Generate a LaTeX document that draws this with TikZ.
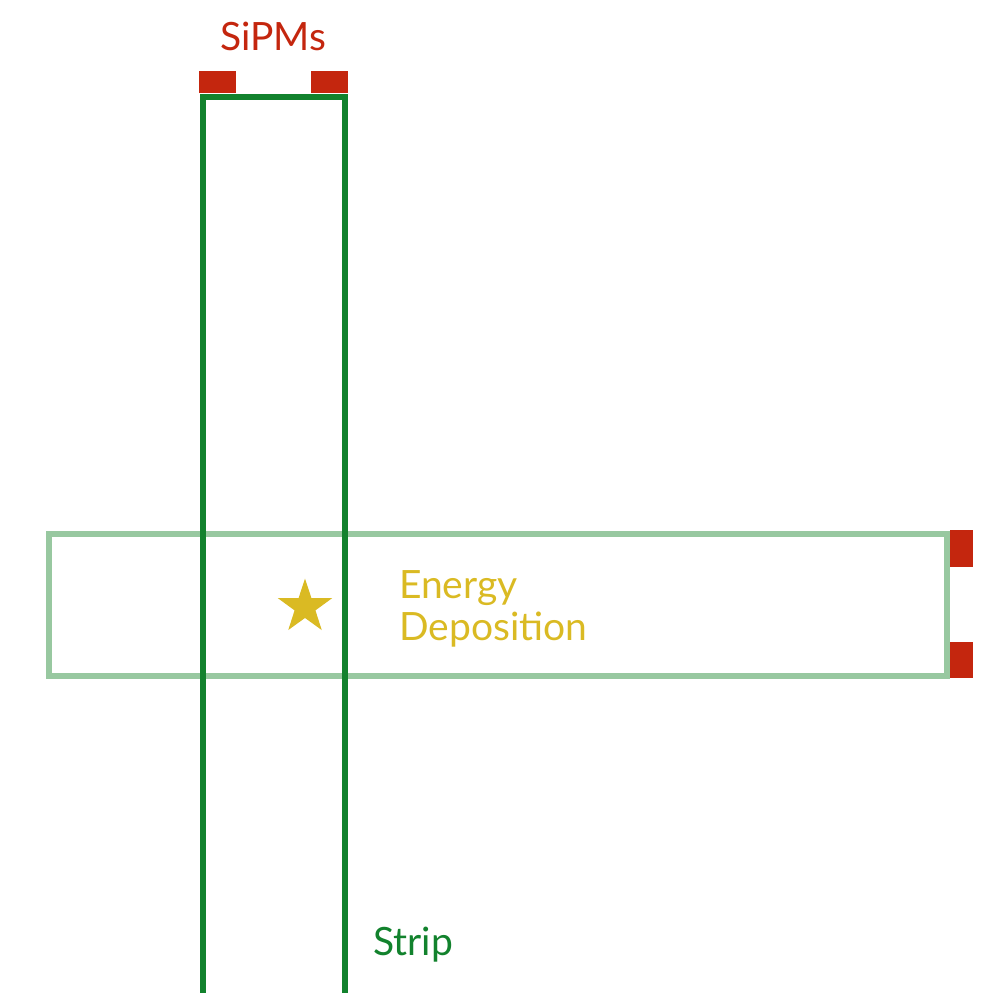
\documentclass[tikz,border=0pt]{standalone}
\usepackage{fontspec}
\setmainfont{Lato}
\usetikzlibrary{shapes.geometric}
\definecolor{sipmred}{RGB}{196,38,14}
\definecolor{darkstrip}{RGB}{18,130,45}
\definecolor{lightstrip}{RGB}{152,200,160}
\definecolor{gold}{RGB}{218,186,35}
\tikzset{
  lbl/.style={font=\fontsize{39}{42}\selectfont, inner sep=0pt},
  sipm/.style={fill=sipmred, draw=none},
}
\begin{document}
\begin{tikzpicture}[x=1pt,y=-1pt]
\useasboundingbox (0,0) rectangle (980,993);
\begin{scope}
\clip (0,0) rectangle (980,993);
% horizontal strip (light)
\draw[lightstrip, line width=5.5] (49,534) rectangle (947,676);
% vertical strip (dark)
\draw[darkstrip, line width=5.5] (203,97) rectangle (345,996);
\end{scope}
% SiPMs
\fill[sipm] (199,71) rectangle (236,93);
\fill[sipm] (311,71) rectangle (348,93);
\fill[sipm] (950,530) rectangle (973,567);
\fill[sipm] (950,642) rectangle (973,678);
% star
\node[star, star points=5, star point ratio=2.6, fill=gold, inner sep=0pt, minimum size=57pt] (dep) at (305,607) {};
% labels
\node[lbl, text=sipmred, anchor=base] (sipms) at (273,50) {SiPMs};
\node[lbl, text=gold, anchor=base west, align=left] (energy) at (399,640) {Energy\\Deposition};
\node[lbl, text=darkstrip, anchor=base west] (strip) at (373,955) {Strip};
\end{tikzpicture}
\end{document}
